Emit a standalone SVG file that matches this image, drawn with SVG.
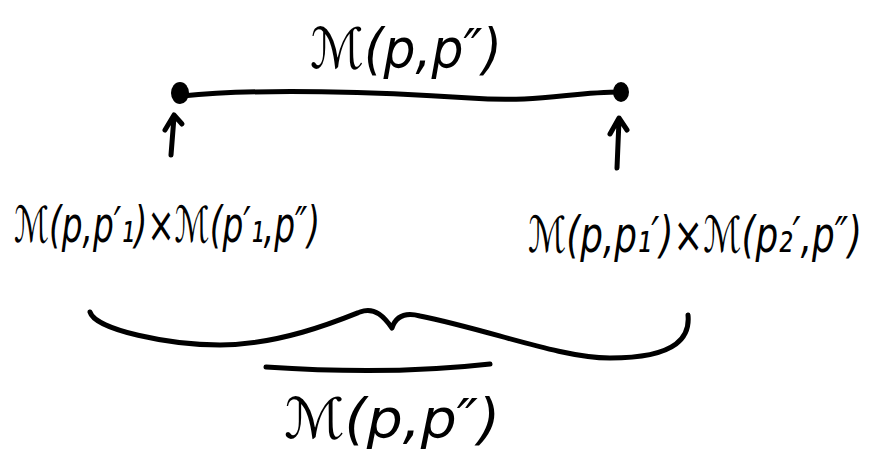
<svg xmlns="http://www.w3.org/2000/svg" width="879" height="458" viewBox="0 0 879 458">
<style>
.s{fill:none;stroke:#000;stroke-width:5;stroke-linecap:round;stroke-linejoin:round}
.t{font-family:"DejaVu Sans","Liberation Sans",sans-serif;font-style:italic;fill:#000}
</style>
<rect width="879" height="458" fill="#fff"/>
<g id="connectors">
<path class="s" d="M182,96 C260,88 380,92 470,98 C540,103 570,92 621,92"/>
<path class="s" d="M171,155 L174,117 M165,130 L174,115 L182,124"/>
<path class="s" d="M617,168 L619,120 M610,134 L619,118 L627,130"/>
<path class="s" d="M90,312 C95,330 170,345 220,345 C280,345 340,320 360,312 C375,306 385,318 392,328 C396,316 405,312 420,316 C490,330 560,358 610,358 C680,358 690,335 688,315"/>
<path class="s" d="M266,367 C340,372 420,372 490,364"/>
</g>
<g id="node-top">
<text class="t" x="310" y="68" font-size="56" textLength="192" lengthAdjust="spacingAndGlyphs">ℳ(p,p″)</text>
</g>
<g id="node-left-dot"><ellipse cx="180" cy="93" rx="9" ry="11"/></g>
<g id="node-right-dot"><ellipse cx="621" cy="92" rx="8" ry="10"/></g>
<g id="node-left">
<text class="t" transform="translate(14,242) scale(1,1.5)" font-size="33" textLength="306" lengthAdjust="spacingAndGlyphs">ℳ(p,p′₁)×ℳ(p′₁,p″)</text>
</g>
<g id="node-right">
<text class="t" transform="translate(528,252) scale(1,1.5)" font-size="33" textLength="334" lengthAdjust="spacingAndGlyphs">ℳ(p,p₁′)×ℳ(p₂′,p″)</text>
</g>
<g id="node-bottom">
<text class="t" x="284" y="438" font-size="56" textLength="216" lengthAdjust="spacingAndGlyphs">ℳ(p,p″)</text>
</g>
</svg>
